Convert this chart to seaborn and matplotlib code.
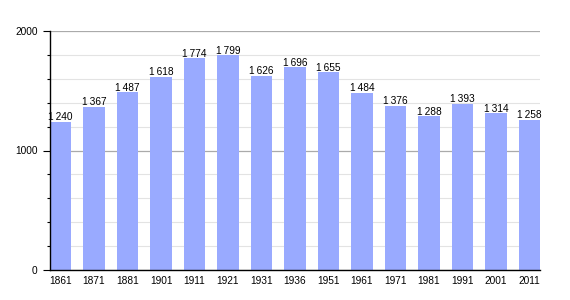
import matplotlib
matplotlib.use("Agg")
import matplotlib.pyplot as plt
import seaborn as sns
import pandas as pd
from matplotlib.ticker import MultipleLocator

years = ["1861", "1871", "1881", "1901", "1911", "1921", "1931", "1936",
         "1951", "1961", "1971", "1981", "1991", "2001", "2011"]
population = [1240, 1367, 1487, 1618, 1774, 1799, 1626, 1696,
              1655, 1484, 1376, 1288, 1393, 1314, 1258]

df = pd.DataFrame({"year": years, "pop": population})

sns.set_theme(style="white")
plt.rcParams["font.family"] = ["Liberation Sans", "DejaVu Sans"]

fig = plt.figure(figsize=(5.7, 3.0), dpi=100)
ax = fig.add_axes([50/570, 30/300, 490/570, 239/300])

sns.barplot(data=df, x="year", y="pop", color="#99aaff", saturation=1,
            width=0.63, ax=ax, zorder=3, edgecolor="none")

ax.set_xlim(-0.315, len(years) - 1 + 0.315)
ax.set_ylim(0, 2000)
ax.yaxis.set_major_locator(MultipleLocator(1000))
ax.yaxis.set_minor_locator(MultipleLocator(200))
ax.grid(False)
ax.yaxis.grid(True, which="minor", color="#e3e3e3", linewidth=0.8, zorder=0)
ax.yaxis.grid(True, which="major", color="#aaaaaa", linewidth=0.9, zorder=0)
ax.set_axisbelow(True)

for s in ["top", "right"]:
    ax.spines[s].set_visible(False)
for s in ["left", "bottom"]:
    ax.spines[s].set_visible(True)
    ax.spines[s].set_color("black")
    ax.spines[s].set_linewidth(1.0)
    ax.spines[s].set_zorder(5)

ax.tick_params(axis="y", which="major", left=True, length=5, width=0.8,
               color="black", labelsize=7.3, pad=4, labelcolor="black")
ax.tick_params(axis="y", which="minor", left=True, length=2, width=0.8,
               color="black")
ax.tick_params(axis="x", bottom=False, labelsize=7.3, pad=-2, labelcolor="black")
ax.set_xlabel("")
ax.set_ylabel("")

for i, v in enumerate(population):
    label = f"{v // 1000}\u2009{v % 1000:03d}"
    ax.annotate(label, (i, v), xytext=(0, 1), textcoords="offset points",
                ha="center", va="baseline", fontsize=7.3, color="black", zorder=6)

fig.savefig("out.png", dpi=100)
